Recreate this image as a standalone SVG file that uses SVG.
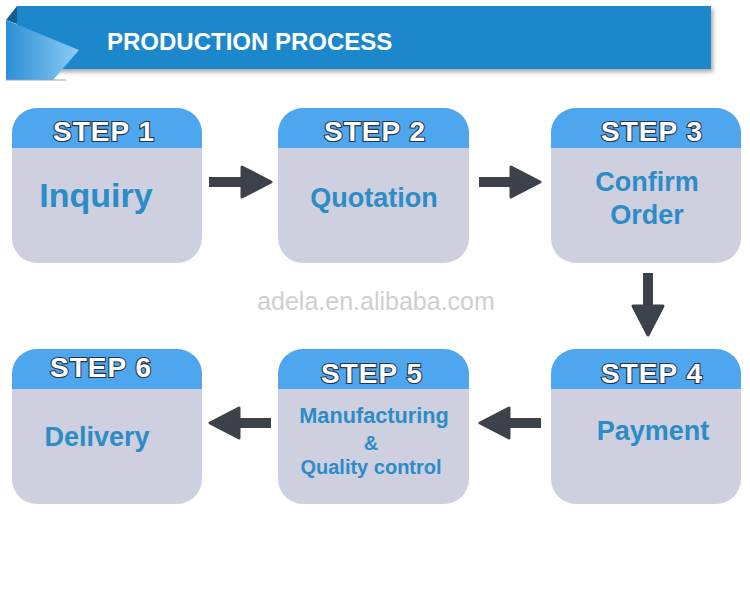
<svg xmlns="http://www.w3.org/2000/svg" width="750" height="600" viewBox="0 0 750 600">
<defs>
<style>
.box{fill:#cecfdf}
.hdr{fill:#4ea6ef}
.step{font-family:"Liberation Sans",Arial,sans-serif;font-weight:bold;font-size:28px;fill:#ffffff;stroke:#2b3440;stroke-width:2.2px;paint-order:stroke;text-anchor:middle;letter-spacing:1px}
.lbl{font-family:"Liberation Sans",Arial,sans-serif;font-weight:bold;fill:#2b8cc7;text-anchor:middle}
.arrow{stroke:#3d4149;stroke-width:10;fill:none}
</style>
<linearGradient id="fold" x1="0" y1="0" x2="1" y2="0">
<stop offset="0" stop-color="#2a8fd6"/>
<stop offset="1" stop-color="#8ccdf5"/>
</linearGradient>
<filter id="sh" x="-5%" y="-10%" width="115%" height="140%">
<feGaussianBlur in="SourceAlpha" stdDeviation="2"/>
<feOffset dx="2" dy="3"/>
<feComponentTransfer><feFuncA type="linear" slope="0.35"/></feComponentTransfer>
<feMerge><feMergeNode/><feMergeNode in="SourceGraphic"/></feMerge>
</filter>
<marker id="head" viewBox="-2 -18 34 36" refX="3" refY="0" markerWidth="34" markerHeight="36" markerUnits="userSpaceOnUse" orient="auto">
<path d="M0,-15 L29,0 L0,15 Z" fill="#3d4149" stroke="#3d4149" stroke-width="3" stroke-linejoin="round"/>
</marker>
</defs>
<rect width="750" height="600" fill="#ffffff"/>

<g id="banner">
<rect x="17" y="6" width="694" height="63" fill="#1b88cb" filter="url(#sh)"/>
<polygon points="6,20 17,6 17,24" fill="#145f91"/>
<polygon points="6,20 79,50 53,80 6,80" fill="url(#fold)"/>
<rect x="6" y="79" width="60" height="2" fill="#9aa3ad" opacity="0.5"/>
<text x="107" y="50" font-family="'Liberation Sans',Arial,sans-serif" font-weight="bold" font-size="24" fill="#ffffff">PRODUCTION PROCESS</text>
</g>

<text id="watermark" x="376" y="310" font-family="'Liberation Sans',Arial,sans-serif" font-size="25" fill="#cfcfcf" text-anchor="middle">adela.en.alibaba.com</text>

<g id="step1" transform="translate(12,108)">
<rect class="box" width="190" height="155" rx="25"/>
<path class="hdr" d="M0,40 V25 A25,25 0 0 1 25,0 H165 A25,25 0 0 1 190,25 V40 Z"/>
<text class="step" x="92" y="33">STEP 1</text>
<text class="lbl" x="84" y="99" font-size="34">Inquiry</text>
</g>

<g id="step2" transform="translate(278,108)">
<rect class="box" width="191" height="155" rx="25"/>
<path class="hdr" d="M0,40 V25 A25,25 0 0 1 25,0 H166 A25,25 0 0 1 191,25 V40 Z"/>
<text class="step" x="97" y="33">STEP 2</text>
<text class="lbl" x="96" y="99" font-size="27">Quotation</text>
</g>

<g id="step3" transform="translate(551,108)">
<rect class="box" width="190" height="155" rx="25"/>
<path class="hdr" d="M0,40 V25 A25,25 0 0 1 25,0 H165 A25,25 0 0 1 190,25 V40 Z"/>
<text class="step" x="101" y="33">STEP 3</text>
<text class="lbl" x="96" y="83" font-size="27">Confirm</text>
<text class="lbl" x="96" y="116" font-size="27">Order</text>
</g>

<g id="step4" transform="translate(551,349)">
<rect class="box" width="190" height="155" rx="25"/>
<path class="hdr" d="M0,40 V25 A25,25 0 0 1 25,0 H165 A25,25 0 0 1 190,25 V40 Z"/>
<text class="step" x="101" y="34">STEP 4</text>
<text class="lbl" x="102" y="91" font-size="27">Payment</text>
</g>

<g id="step5" transform="translate(278,349)">
<rect class="box" width="191" height="155" rx="25"/>
<path class="hdr" d="M0,40 V25 A25,25 0 0 1 25,0 H166 A25,25 0 0 1 191,25 V40 Z"/>
<text class="step" x="94" y="34">STEP 5</text>
<text class="lbl" x="96" y="74" font-size="21.7">Manufacturing</text>
<text class="lbl" x="93" y="101" font-size="20">&amp;</text>
<text class="lbl" x="93" y="125" font-size="20">Quality control</text>
</g>

<g id="step6" transform="translate(12,349)">
<rect class="box" width="190" height="155" rx="25"/>
<path class="hdr" d="M0,40 V25 A25,25 0 0 1 25,0 H165 A25,25 0 0 1 190,25 V40 Z"/>
<text class="step" x="89" y="28">STEP 6</text>
<text class="lbl" x="85" y="97" font-size="27">Delivery</text>
</g>

<g id="connectors">
<line class="arrow" x1="209" y1="182" x2="245" y2="182" marker-end="url(#head)"/>
<line class="arrow" x1="479" y1="182" x2="514" y2="182" marker-end="url(#head)"/>
<line class="arrow" x1="648" y1="273" x2="648" y2="309" marker-end="url(#head)"/>
<line class="arrow" x1="541" y1="423" x2="506" y2="423" marker-end="url(#head)"/>
<line class="arrow" x1="271" y1="423" x2="236" y2="423" marker-end="url(#head)"/>
</g>
</svg>
